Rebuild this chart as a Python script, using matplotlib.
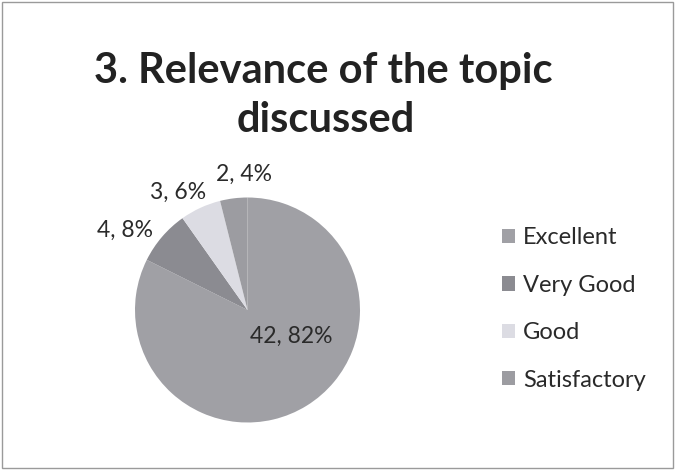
import matplotlib
matplotlib.use("Agg")
import matplotlib.pyplot as plt
import numpy as np
from matplotlib.patches import Rectangle, Patch

plt.rcParams['font.family'] = ['Lato', 'DejaVu Sans']

categories = ["Excellent", "Very Good", "Good", "Satisfactory"]
counts = [42, 4, 3, 2]
percents = [82, 8, 6, 4]
colors = ["#a0a0a5", "#8b8b91", "#dcdce3", "#9c9ca1"]
title_lines = ["3. Relevance of the topic", "discussed"]

# label positions relative to pie (radius = 1)
label_pos = [(0.39, -0.23), (-1.09, 0.71), (-0.62, 1.05), (-0.03, 1.21)]

W, H = 675, 470
fig = plt.figure(figsize=(W / 100, H / 100), dpi=100)
fig.patch.set_facecolor("white")

cx, cy, R = 247.5, 310, 112.5
half = 1.3 * R
ax = fig.add_axes([(cx - half) / W, (H - cy - half) / H, 2 * half / W, 2 * half / H])
wedges, _ = ax.pie(counts, colors=colors, startangle=90, counterclock=False,
                   radius=1.0, wedgeprops=dict(linewidth=0))
ax.set_xlim(-1.3, 1.3)
ax.set_ylim(-1.3, 1.3)
ax.set_aspect("equal")
ax.axis("off")

for (x, y), c, p in zip(label_pos, counts, percents):
    ax.text(x, y, f"{c}, {p}%", ha="center", va="center", fontsize=16.5, color="#2a2a2a")

fig.text(323 / W, 1 - 83 / H, title_lines[0], ha="center", va="baseline",
         fontsize=30, fontweight="bold", color="#222222")
fig.text(326 / W, 1 - 132 / H, title_lines[1], ha="center", va="baseline",
         fontsize=30, fontweight="bold", color="#222222")

handles = [Patch(facecolor=c, edgecolor="none") for c in colors]
leg = fig.legend(handles, categories, loc="center left",
                 bbox_to_anchor=(490 / W, 1 - 309 / H), frameon=False,
                 fontsize=17, labelspacing=1.12, handlelength=0.55, handleheight=0.55,
                 handletextpad=0.35, borderpad=0)
for t in leg.get_texts():
    t.set_color("#2a2a2a")

fig.add_artist(Rectangle((2 / W, 2 / H), 1 - 4 / W, 1 - 4 / H, transform=fig.transFigure,
                         fill=False, edgecolor="#9a9a9a", linewidth=1))

fig.savefig("out.png", dpi=100, facecolor="white")
